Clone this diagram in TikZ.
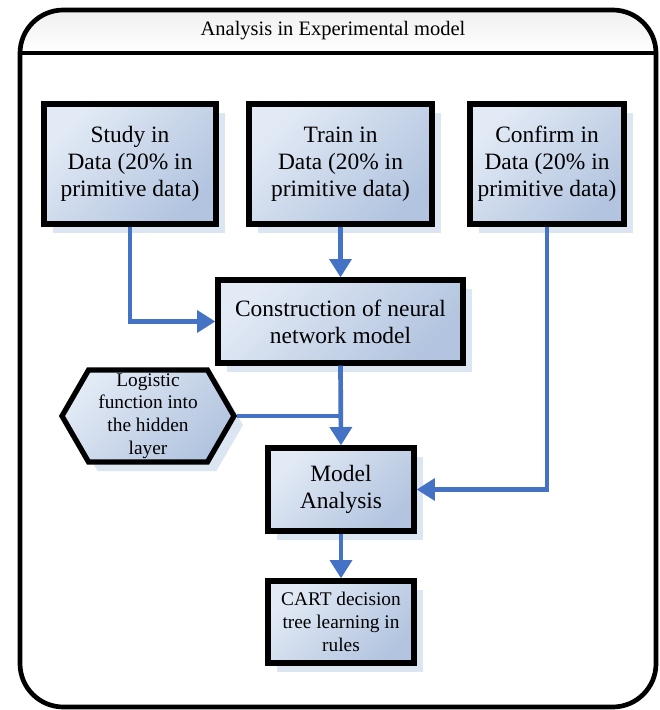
\documentclass[tikz,border=0pt]{standalone}
\usepackage{fontspec}
\setmainfont{Liberation Serif}
\usepackage{tikz}
\usetikzlibrary{arrows.meta,positioning,calc,shapes,shadows}
\definecolor{flowblue}{HTML}{4472C4}
\definecolor{boxlight}{HTML}{E2EAF5}
\definecolor{boxdark}{HTML}{B2C4DF}
\definecolor{shadowblue}{HTML}{DCE5F2}

\begin{document}
\begin{tikzpicture}[x=0.03cm,y=-0.03cm,
  block/.style={rectangle,draw,line width=4.5pt,top color=boxlight,bottom color=boxdark,
                shading angle=45,inner sep=2pt,align=center,
                font=\fontsize{20}{23}\selectfont,
                drop shadow={shadow xshift=0.27cm,shadow yshift=-0.27cm,fill=shadowblue,opacity=1}},
  small/.style={font=\fontsize{16.5}{19.5}\selectfont},
  flow/.style={draw=flowblue,line width=4pt,-{Triangle[length=0.55cm,width=0.65cm]}}]
\useasboundingbox (0,0) rectangle (659,710);
% outer frame with title band
\fill[top color=gray!12,bottom color=white,rounded corners=1.3cm]
  (20,53) -- (20,10) -- (656,10) -- (656,53);
\draw[line width=4pt,rounded corners=1.3cm] (20,10) rectangle (656,707);
\draw[line width=4pt] (20,53) -- (656,53);
\node[font=\fontsize{17.5}{20}\selectfont] (title) at (333,31) {Analysis in Experimental model};

\node[block,minimum width=5.16cm,minimum height=3.6cm] (study) at (130,164)
  {Study in\\ Data (20\% in\\ primitive data)};
\node[block,minimum width=5.49cm,minimum height=3.6cm] (train) at (340.5,164)
  {Train in\\ Data (20\% in\\ primitive data)};
\node[block,minimum width=4.62cm,minimum height=3.6cm] (confirm) at (547,164)
  {Confirm in\\ Data (20\% in\\ primitive data)};
\node[block,minimum width=7.35cm,minimum height=2.49cm] (build) at (340.5,321.5)
  {Construction of neural\\ network model};
\node[block,small,shape=signal,signal to=west and east,signal pointer angle=120,
      minimum width=5.16cm,minimum height=2.76cm] (logistic) at (148,416)
  {Logistic\\ function into\\ the hidden\\ layer};
\node[block,minimum width=4.38cm,minimum height=2.49cm] (analysis) at (341,489.5)
  {Model\\ Analysis};
\node[block,font=\fontsize{16.5}{19.5}\selectfont,minimum width=4.38cm,minimum height=2.46cm]
  (cart) at (341,622) {CART decision\\ tree learning in\\ rules};

\draw[flow] (study.south) |- (build.west);
\draw[flow] (train.south) -- (build.north);
\draw[flow] (build.south) -- (analysis.north);
\draw[draw=flowblue,line width=4pt] (logistic.east) -- (logistic.east -| build.south);
\draw[flow] (confirm.south) |- (analysis.east);
\draw[flow] (analysis.south) -- (cart.north);
\end{tikzpicture}
\end{document}
